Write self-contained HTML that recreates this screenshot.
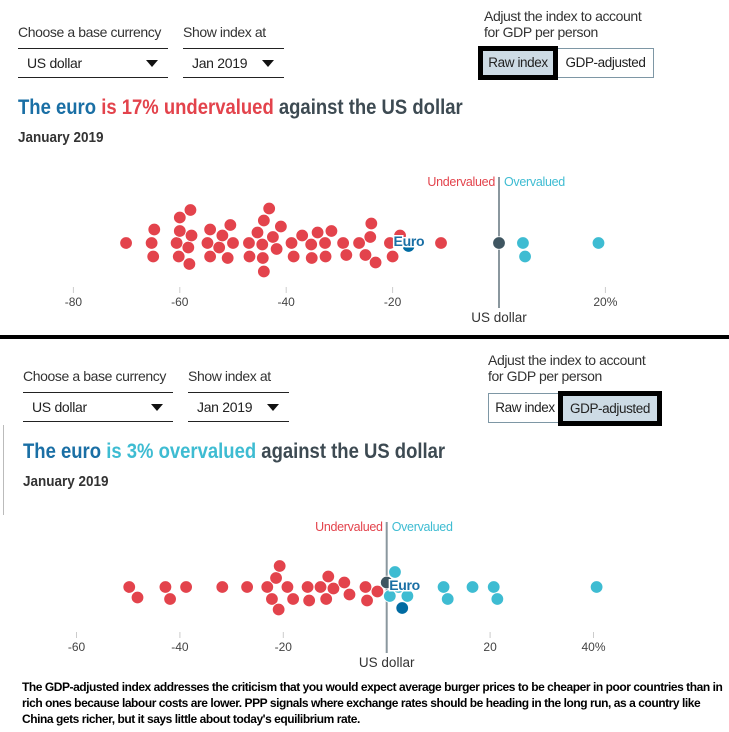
<!DOCTYPE html>
<html><head><meta charset="utf-8">
<style>
body{margin:0;width:729px;height:732px;background:#fff;position:relative;overflow:hidden;font-family:"Liberation Sans",sans-serif;color:#3d4a52}
.abs{position:absolute}
.lbl{font-size:14px;color:#333;white-space:nowrap;letter-spacing:-0.4px}
.dd{position:absolute;border-top:1.5px solid #222;border-bottom:1.5px solid #222;height:28px;font-size:14px;color:#222;letter-spacing:-0.3px}
.dd span{position:absolute;left:9px;top:6px}
.dd i{position:absolute;right:10px;top:11px;width:0;height:0;border-left:6px solid transparent;border-right:6px solid transparent;border-top:7px solid #111}
.btn{position:absolute;font-size:13.5px;color:#222;text-align:center;box-sizing:border-box;line-height:28px;letter-spacing:-0.4px}
.title{font-size:21px;font-weight:bold;white-space:nowrap;transform:scaleX(0.88);transform-origin:0 0}
.sub{font-size:15px;font-weight:bold;color:#333;transform:scaleX(0.9);transform-origin:0 0}
svg text{font-family:"Liberation Sans",sans-serif}
</style></head><body>
<!-- top panel -->
<div class="abs lbl" style="left:18px;top:24px">Choose a base currency</div>
<div class="dd" style="left:18px;top:48px;width:150px"><span>US dollar</span><i></i></div>
<div class="abs lbl" style="left:183px;top:24px">Show index at</div>
<div class="dd" style="left:183px;top:48px;width:101px"><span>Jan 2019</span><i></i></div>
<div class="abs lbl" style="left:484px;top:8px;line-height:16px">Adjust the index to account<br>for GDP per person</div>
<div class="btn" style="left:478px;top:46px;width:80px;height:34px;border:5px solid #000;background:#cddbe5;line-height:24px">Raw index</div>
<div class="btn" style="left:558px;top:48px;width:96px;height:30px;border:1px solid #7e97a5;border-left:none">GDP-adjusted</div>
<div class="abs title" style="left:18px;top:96px"><span style="color:#1a6fa5">The euro</span> <span style="color:#e3434c">is 17% undervalued</span> against the US dollar</div>
<div class="abs sub" style="left:18px;top:129px">January 2019</div>
<svg class="abs" style="left:0;top:0" width="729" height="335" id="top"></svg>
<div class="abs" style="left:0;top:335px;width:729px;height:4px;background:#000"></div>
<!-- bottom panel -->
<div class="abs lbl" style="left:23px;top:368px">Choose a base currency</div>
<div class="dd" style="left:23px;top:392px;width:150px"><span>US dollar</span><i></i></div>
<div class="abs lbl" style="left:188px;top:368px">Show index at</div>
<div class="dd" style="left:188px;top:392px;width:101px"><span>Jan 2019</span><i></i></div>
<div class="abs lbl" style="left:488px;top:352px;line-height:16px">Adjust the index to account<br>for GDP per person</div>
<div class="btn" style="left:488px;top:393px;width:73px;height:30px;border:1px solid #7e97a5;border-right:none">Raw index</div>
<div class="btn" style="left:558px;top:391px;width:104px;height:35px;border:5px solid #000;background:#cddbe5;line-height:25px">GDP-adjusted</div>
<div class="abs" style="left:3px;top:425px;width:1px;height:90px;background:#bbb"></div>
<div class="abs title" style="left:23px;top:440px"><span style="color:#1a6fa5">The euro</span> <span style="color:#3ebcd2">is 3% overvalued</span> against the US dollar</div>
<div class="abs sub" style="left:23px;top:473px">January 2019</div>
<svg class="abs" style="left:0;top:339px" width="729" height="340" id="bot"></svg>
<div class="abs" style="left:22px;top:679px;width:712px;font:bold 12px/16px 'Liberation Sans',Arial,sans-serif;letter-spacing:-0.45px;color:#000">The GDP-adjusted index addresses the criticism that you would expect average burger prices to be cheaper in poor countries than in rich ones because labour costs are lower. PPP signals where exchange rates should be heading in the long run, as a country like China gets richer, but it says little about today's equilibrium rate.</div>
<script>
const rawValues=[-70.1,-65.3,-64.8,-65,-60.6,-60,-60,-60.2,-58.4,-58,-57.8,-58.2,-54.3,-54.8,-54.3,-52.6,-52,-51,-50.5,-50,-47,-46.9,-45.4,-44.2,-43.2,-44.5,-44.4,-44.2,-41.8,-42.5,-41,-38.6,-39,-37,-35.2,-34.1,-35.3,-32.6,-31.5,-32.7,-29.3,-28.7,-26.3,-25.1,-24.2,-23.2,-24,-20.5,-20,-18.6,-10.9,4.9,4.5,18.7];
const rawEuro=-17;
const rawTicks=[-80,-60,-40,-20,0,20];
const rawTickLabels=["-80","-60","-40","-20","","20%"];
const gdpValues=[-49.8,-48.2,-42.8,-41.9,-38.8,-31.8,-27,-23.1,-22.2,-20.9,-20.7,-21.4,-19.2,-18.1,-15.3,-15,-12.8,-11.3,-10.3,-11.7,-8.2,-7.2,-4.1,-3.8,-1.8,1.6,4,2.3,0.6,11.8,11,16.6,21.4,20.7,40.6];
const gdpEuro=3;
const gdpTicks=[-60,-40,-20,0,20,40];
const gdpTickLabels=["-60","-40","-20","","20","40%"];
const NS="http://www.w3.org/2000/svg";
function mk(svg,tag,attrs){const e=document.createElementNS(NS,tag);for(const k in attrs)e.setAttribute(k,attrs[k]);svg.appendChild(e);return e;}
function draw(svgId,values,euro,ticks,labels,x0,ppu,cy,axisTop,tickY,euroDx){
  const svg=document.getElementById(svgId);
  const x=v=>x0+v*ppu;
  ticks.forEach((t,i)=>{
    if(labels[i]==="")return;
    const l=mk(svg,'line',{x1:x(t),x2:x(t),y1:tickY-11,y2:tickY-5,stroke:'#ccc','stroke-width':1});
    
    const tx=mk(svg,'text',{x:x(t),y:tickY+8,'text-anchor':'middle','font-size':12,fill:'#444'});
    tx.textContent=labels[i];
    
  });
  const zl=mk(svg,'line',{x1:x(0),x2:x(0),y1:axisTop,y2:tickY+10,stroke:'#8a979e','stroke-width':2});
  
  const u=mk(svg,'text',{x:x(0)-4,y:axisTop+9,'text-anchor':'end','font-size':12.5,fill:'#e3434c','letter-spacing':'-0.3'});u.textContent='Undervalued';
  
  const o=mk(svg,'text',{x:x(0)+5,y:axisTop+9,'font-size':12.5,fill:'#3ebcd2','letter-spacing':'-0.3'});o.textContent='Overvalued';
  
  const ud=mk(svg,'text',{x:x(0),y:tickY+24,'text-anchor':'middle','font-size':13.5,fill:'#333'});ud.textContent='US dollar';
  
  const pts=values.map(v=>({v,c:v<0?'#e3434c':'#3ebcd2',n:'country-dot'}));
  pts.push({v:0,c:'#3f5661',n:'us-dollar-dot'});
  pts.push({v:euro,c:'#006ba2',n:'euro-dot'});
  const r=6.3,d=12.4;const placed=[];
  const order=pts.slice(0,values.length+1).sort((a,b)=>a.v-b.v);order.push(pts[pts.length-1]);
  order.forEach(p=>{
    const px=x(p.v);let best=0;
    for(let k=0;k<80;k++){
      const cands=k===0?[0]:[k*1.5,-k*1.5];let found=null;
      for(const dy of cands){if(placed.every(q=>Math.hypot(q.x-px,q.y-dy)>=d)){found=dy;break;}}
      if(found!==null){best=found;break;}
    }
    p.x=px;p.y=best;placed.push(p);
  });
  placed.forEach(p=>{
    const c=mk(svg,'circle',{cx:p.x,cy:cy+p.y,r:r,fill:p.c,stroke:'#fff','stroke-width':0.8});
    
  });
  const e=mk(svg,'text',{x:x(euro)+euroDx,y:cy+3,'font-size':14,'font-weight':'bold',fill:'#1a6fa5',stroke:'#fff','stroke-width':3,'paint-order':'stroke','letter-spacing':'-0.3'});
  e.textContent='Euro';
  
}
draw('top',rawValues,rawEuro,rawTicks,rawTickLabels,499,5.32,243,177,298,-15);
draw('bot',gdpValues,gdpEuro,gdpTicks,gdpTickLabels,386.7,5.17,248,183,304,-13);
</script>
</body></html>
